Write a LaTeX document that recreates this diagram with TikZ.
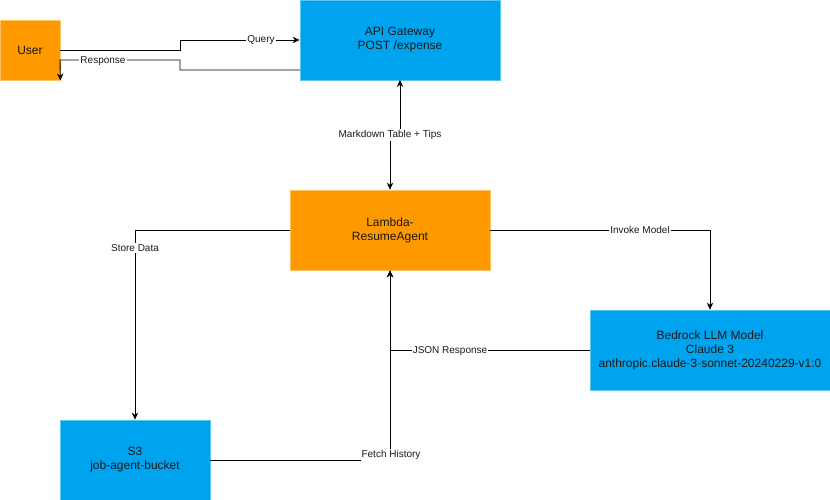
\documentclass[tikz,border=0pt]{standalone}
\usepackage{fontspec}
\setmainfont{Liberation Sans}
\usetikzlibrary{arrows.meta}
\definecolor{awsorange}{HTML}{FF9900}
\definecolor{awsorangeline}{HTML}{FFC266}
\definecolor{awsblue}{HTML}{00A4EE}
\definecolor{awsblueline}{HTML}{5CC6F2}
\definecolor{txt}{HTML}{1A1A1A}
\begin{document}
\begin{tikzpicture}[x=1pt,y=-1pt,
  obox/.style={draw=awsorangeline,fill=awsorange,line width=0.8pt,inner sep=0pt,align=center,text=txt,font=\fontsize{12}{14}\selectfont},
  bbox/.style={draw=awsblueline,fill=awsblue,line width=0.8pt,inner sep=0pt,align=center,text=txt,font=\fontsize{12}{14}\selectfont},
  conn/.style={draw=black,line width=0.9pt,-{Stealth[length=7pt,width=6.5pt]}},
  lbl/.style={fill=white,inner sep=1pt,text=txt,font=\fontsize{10}{12}\selectfont}]
\useasboundingbox (0,0) rectangle (830,500);
% nodes
\node[obox,minimum width=60pt,minimum height=60pt] (user) at (30,50) {User};
\node[bbox,minimum width=200pt,minimum height=80pt] (api) at (400,40) {API Gateway\\POST /expense};
\node[obox,minimum width=200pt,minimum height=80pt] (lambda) at (390,230) {Lambda-\\ResumeAgent};
\node[bbox,minimum width=240pt,minimum height=80pt] (bedrock) at (710,350) {Bedrock LLM Model\\Claude 3\\anthropic.claude-3-sonnet-20240229-v1:0};
\node[bbox,minimum width=150pt,minimum height=80pt] (s3) at (135,460) {S3\\job-agent-bucket};
% helper coordinates
\coordinate (apiresp) at (300,70);
\coordinate (apibot) at (400,80);
% connectors
\draw[conn] (user.east) -- (180,50) -- (180,40) -- (api.west);
\draw[conn] (apiresp) -- (180,70) -- (180,60) -- (60,60) -- (user.south east);
\draw[conn,{Stealth[length=7pt,width=6.5pt]}-{Stealth[length=7pt,width=6.5pt]}] (apibot) -- (400,135) -- (390,135) -- (lambda.north);
\draw[conn] (lambda.west) -| (s3.north);
\draw[conn] (lambda.east) -| (bedrock.north);
\draw[conn] (bedrock.west) -| (lambda.south);
\draw[conn] (s3.east) -| (lambda.south);
% labels
\node[lbl] (lq) at (261,40) {Query};
\node[lbl] (lr) at (103,61) {Response};
\node[lbl] (lm) at (390,135) {Markdown Table + Tips};
\node[lbl] (ls) at (135,248) {Store Data};
\node[lbl] (li) at (640,230) {Invoke Model};
\node[lbl] (lj) at (450,351) {JSON Response};
\node[lbl] (lf) at (391,455) {Fetch History};
\end{tikzpicture}
\end{document}
